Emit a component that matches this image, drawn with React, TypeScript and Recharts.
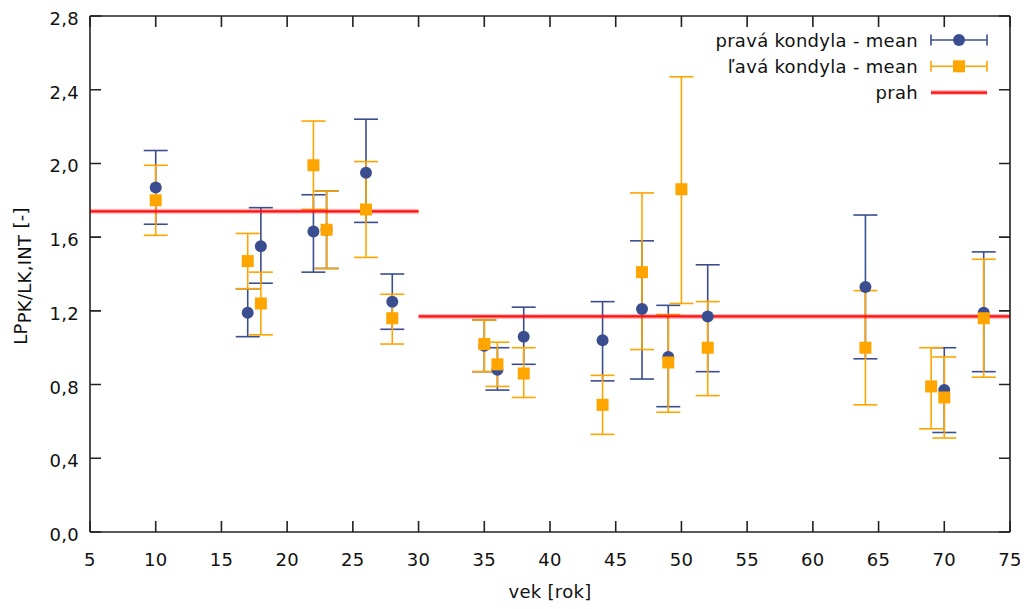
import React from "react";
import {
  ComposedChart,
  Scatter,
  ErrorBar,
  XAxis,
  YAxis,
  ReferenceLine,
  Legend,
  Label,
} from "recharts";

// pravá kondyla
const vekPrava = [10, 17, 18, 22, 23, 26, 28, 35, 36, 38, 44, 47, 49, 52, 64, 70, 73];
const meanPrava = [1.87, 1.19, 1.55, 1.63, 1.64, 1.95, 1.25, 1.01, 0.88, 1.06, 1.04, 1.21, 0.95, 1.17, 1.33, 0.77, 1.19];
const lowPrava = [1.67, 1.06, 1.35, 1.41, 1.43, 1.68, 1.1, 0.87, 0.77, 0.91, 0.82, 0.83, 0.68, 0.87, 0.94, 0.54, 0.87];
const highPrava = [2.07, 1.32, 1.76, 1.83, 1.85, 2.24, 1.4, 1.15, 1.0, 1.22, 1.25, 1.58, 1.23, 1.45, 1.72, 1.0, 1.52];

// ľavá kondyla
const vekLava = [10, 17, 18, 22, 23, 26, 28, 35, 36, 38, 44, 47, 49, 50, 52, 64, 69, 70, 73];
const meanLava = [1.8, 1.47, 1.24, 1.99, 1.64, 1.75, 1.16, 1.02, 0.91, 0.86, 0.69, 1.41, 0.92, 1.86, 1.0, 1.0, 0.79, 0.73, 1.16];
const lowLava = [1.61, 1.32, 1.07, 1.75, 1.43, 1.49, 1.02, 0.87, 0.79, 0.73, 0.53, 0.99, 0.65, 1.24, 0.74, 0.69, 0.56, 0.51, 0.84];
const highLava = [1.99, 1.62, 1.41, 2.23, 1.85, 2.01, 1.29, 1.15, 1.03, 1.0, 0.85, 1.84, 1.18, 2.47, 1.25, 1.31, 1.0, 0.95, 1.48];

// prah: hranice veku a hodnoty
const prahVek = [5, 30, 75];
const prahHodnoty = [1.74, 1.17];

const xTicks = [5, 10, 15, 20, 25, 30, 35, 40, 45, 50, 55, 60, 65, 70, 75];
const yTicks = [0, 0.4, 0.8, 1.2, 1.6, 2.0, 2.4, 2.8];
const legendLabels = ["pravá kondyla - mean", "ľavá kondyla - mean", "prah"];

const BLUE = "#3a4d8f";
const ORANGE = "#ffa500";
const RED = "#ff1010";
const AXIS = "#222222";
const TXT = "#111111";
const FONT = "'DejaVu Sans', Verdana, sans-serif";
const FS = 18;
const TICK = 11;

const toRows = (vek: number[], mean: number[], low: number[], high: number[]) =>
  vek.map((x, i) => ({ x, y: mean[i], err: [mean[i] - low[i], high[i] - mean[i]] }));

const dataPrava = toRows(vekPrava, meanPrava, lowPrava, highPrava);
const dataLava = toRows(vekLava, meanLava, lowLava, highLava);

const Kruh = (p: any) => <circle cx={p.cx} cy={p.cy} r={6} fill={BLUE} />;
const Stvorec = (p: any) => (
  <rect x={p.cx - 6} y={p.cy - 6} width={12} height={12} fill={ORANGE} />
);

const fmt = (v: number) => v.toFixed(1).replace(".", ",");

const BottomTickLabel = (p: any) => (
  <text x={p.x} y={p.y + 34} textAnchor="middle" fontSize={FS} fill={TXT}>
    {p.payload.value}
  </text>
);
const LeftTickLabel = (p: any) => (
  <text x={p.x - 11} y={p.y + 9} textAnchor="end" fontSize={FS} fill={TXT}>
    {fmt(p.payload.value)}
  </text>
);

// inward tick marks on all four sides, placed by the reference line's own scale
const VTickMarks = (p: any) => {
  const top = Math.min(p.y1, p.y2);
  const bot = Math.max(p.y1, p.y2);
  return (
    <path
      d={`M${p.x1},${bot}V${bot - TICK}M${p.x1},${top}V${top + TICK}`}
      stroke={AXIS}
      strokeWidth={1.6}
      fill="none"
    />
  );
};
const HTickMarks = (p: any) => {
  const l = Math.min(p.x1, p.x2);
  const r = Math.max(p.x1, p.x2);
  return (
    <path
      d={`M${l},${p.y1}H${l + TICK}M${r},${p.y1}H${r - TICK}`}
      stroke={AXIS}
      strokeWidth={1.6}
      fill="none"
    />
  );
};

const YLabel = (props: any) => {
  const vb = props.viewBox || { x: 0, y: 16, width: 90, height: 516 };
  const cx = vb.x + 27;
  const cy = vb.y + vb.height / 2 + 2;
  return (
    <text
      x={cx}
      y={cy}
      transform={`rotate(-90, ${cx}, ${cy})`}
      textAnchor="middle"
      fontSize={FS}
      fill={TXT}
    >
      <tspan>LP</tspan>
      <tspan dy={4}>PK/LK,INT</tspan>
      <tspan dy={-4}> [-]</tspan>
    </text>
  );
};

const XLabel = (props: any) => {
  const vb = props.viewBox || { x: 90, y: 532, width: 920, height: 77 };
  return (
    <text x={vb.x + vb.width / 2} y={vb.y + 66} textAnchor="middle" fontSize={FS} fill={TXT}>
      vek [rok]
    </text>
  );
};

const Legenda = () => {
  const colors = [BLUE, ORANGE, RED];
  return (
    <svg
      width={1028}
      height={609}
      style={{ position: "absolute", left: 0, top: 0, pointerEvents: "none" }}
    >
      {legendLabels.map((t, i) => {
        const y = 40 + i * 26.3;
        const c = colors[i];
        return (
          <g key={t}>
            <text x={918} y={y + 6.5} textAnchor="end" fontSize={FS} fill={TXT}>
              {t}
            </text>
            {i < 2 ? (
              <g stroke={c} strokeWidth={1.6}>
                <line x1={931} x2={987} y1={y} y2={y} />
                <line x1={931} x2={931} y1={y - 5.5} y2={y + 5.5} />
                <line x1={987} x2={987} y1={y - 5.5} y2={y + 5.5} />
                {i === 0 ? (
                  <circle cx={959} cy={y} r={6} fill={c} stroke="none" />
                ) : (
                  <rect x={953} y={y - 6} width={12} height={12} fill={c} stroke="none" />
                )}
              </g>
            ) : (
              <g>
                <line x1={931} x2={987} y1={y} y2={y} stroke={c} strokeOpacity={0.3} strokeWidth={5} />
                <line x1={931} x2={987} y1={y} y2={y} stroke={c} strokeWidth={2.2} />
              </g>
            )}
          </g>
        );
      })}
    </svg>
  );
};

const App: React.FC = () => {
  const axisLine = { stroke: AXIS, strokeWidth: 1.6 };
  return (
    <div style={{ margin: -8, fontFamily: FONT, letterSpacing: "0.3px" }}>
      <ComposedChart
        width={1028}
        height={609}
        margin={{ top: 0, right: 0, bottom: 0, left: 0 }}
      >
        <XAxis
          dataKey="x"
          type="number"
          domain={[5, 75]}
          ticks={xTicks}
          interval={0}
          height={77}
          tickSize={0}
          tickMargin={0}
          tickLine={false}
          tick={BottomTickLabel}
          axisLine={axisLine}
        >
          <Label content={XLabel} />
        </XAxis>
        <XAxis
          xAxisId="top"
          orientation="top"
          type="number"
          domain={[5, 75]}
          ticks={xTicks}
          height={16}
          tick={false}
          tickLine={false}
          axisLine={axisLine}
        />
        <YAxis
          dataKey="y"
          type="number"
          domain={[0, 2.8]}
          ticks={yTicks}
          interval={0}
          width={90}
          tickSize={0}
          tickMargin={0}
          tickLine={false}
          tick={LeftTickLabel}
          axisLine={axisLine}
        >
          <Label content={YLabel} />
        </YAxis>
        <YAxis
          yAxisId="right"
          orientation="right"
          type="number"
          domain={[0, 2.8]}
          ticks={yTicks}
          width={18}
          tick={false}
          tickLine={false}
          axisLine={axisLine}
        />
        {xTicks.map((t) => (
          <ReferenceLine key={`xt${t}`} x={t} shape={VTickMarks} />
        ))}
        {yTicks.map((t) => (
          <ReferenceLine key={`yt${t}`} y={t} shape={HTickMarks} />
        ))}
        <Scatter
          name={legendLabels[0]}
          data={dataPrava}
          shape={Kruh}
          isAnimationActive={false}
        >
          <ErrorBar dataKey="err" direction="y" width={12} stroke={BLUE} strokeWidth={1.6} />
        </Scatter>
        <Scatter
          name={legendLabels[1]}
          data={dataLava}
          shape={Stvorec}
          isAnimationActive={false}
        >
          <ErrorBar dataKey="err" direction="y" width={12} stroke={ORANGE} strokeWidth={1.6} />
        </Scatter>
        {prahHodnoty.map((v, i) => (
          <ReferenceLine
            key={`g${i}`}
            segment={[
              { x: prahVek[i], y: v },
              { x: prahVek[i + 1], y: v },
            ]}
            stroke={RED}
            strokeOpacity={0.3}
            strokeWidth={5}
          />
        ))}
        {prahHodnoty.map((v, i) => (
          <ReferenceLine
            key={`c${i}`}
            segment={[
              { x: prahVek[i], y: v },
              { x: prahVek[i + 1], y: v },
            ]}
            stroke={RED}
            strokeWidth={2.2}
          />
        ))}
        <Legend
          content={() => <Legenda />}
          wrapperStyle={{ position: "absolute", left: 0, top: 0, width: 0, height: 0, overflow: "visible" }}
        />
      </ComposedChart>
    </div>
  );
};

export default App;
